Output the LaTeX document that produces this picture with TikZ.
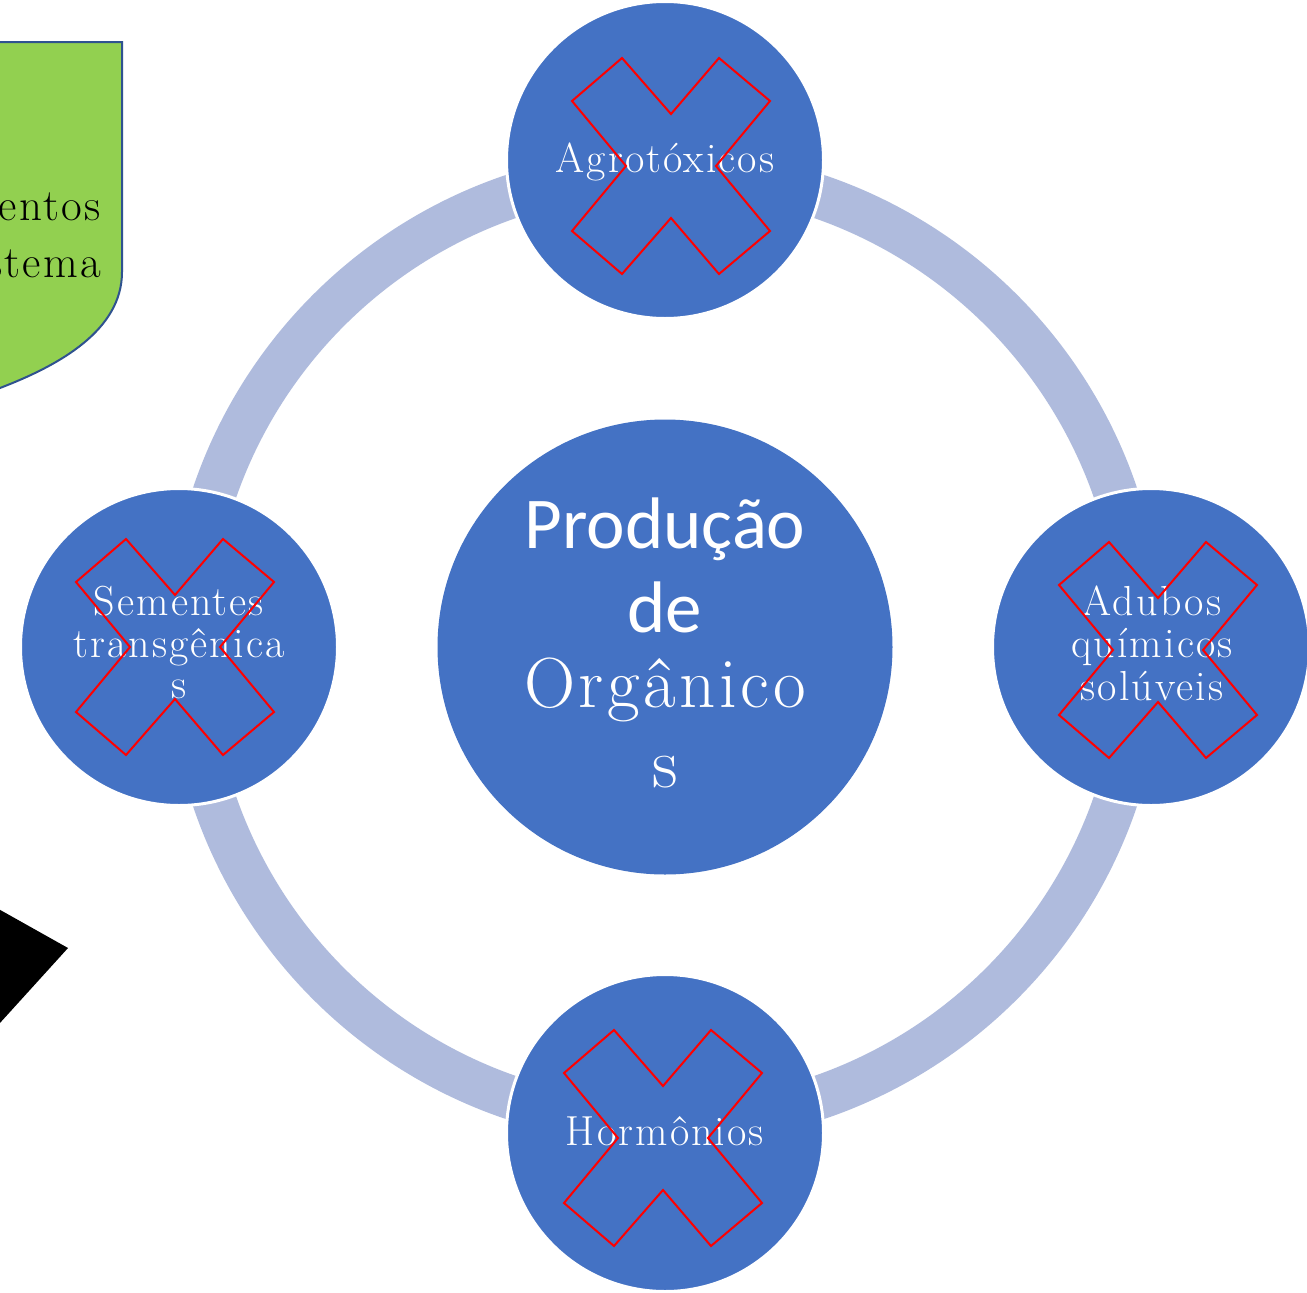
\documentclass[tikz,border=0pt]{standalone}
\usepackage{fontspec}
\newfontfamily\carlito{Carlito}
\newfontfamily\garam[LetterSpace=5]{Latin Modern Roman}
\definecolor{circblue}{HTML}{4472C4}
\definecolor{ringblue}{HTML}{AFBBDD}
\definecolor{leafgreen}{HTML}{92D050}
\definecolor{edgeblue}{HTML}{2F528F}
\definecolor{xred}{HTML}{FF0000}
\tikzset{
  ringline/.style={draw=ringblue, line width=44pt},
  sat/.style={circle, fill=circblue, draw=white, line width=3pt, minimum size=317pt, inner sep=0pt},
  hub/.style={circle, fill=circblue, minimum size=455pt, inner sep=0pt},
  sattext/.style={text=white, font=\garam\fontsize{42}{42}\selectfont, anchor=base, inner sep=0pt},
  greentext/.style={anchor=base east, inner sep=0pt, font=\garam\fontsize{45}{57}\selectfont},
  hubtext/.style={text=white, anchor=base, inner sep=0pt},
  redx/.pic={\draw[xred, line width=2pt, line join=miter]
     (-49,-108) -- (0,-52) -- (48,-108) -- (99,-65) -- (45,0) -- (99,65) -- (48,108)
     -- (0,52) -- (-49,108) -- (-99,65) -- (-45,0) -- (-99,-65) -- cycle;},
}
\begin{document}
\begin{tikzpicture}[x=1pt,y=-1pt]
\useasboundingbox (0,0) rectangle (1307,1293);
\clip (0,0) rectangle (1307,1293);
\fill[white] (0,0) rectangle (1307,1293);
% green shape (partly off page)
\draw[fill=leafgreen, draw=edgeblue, line width=2pt]
  (-30,42) -- (122,42) -- (122,272) .. controls (122,330) and (60,365) .. (0,388) -- (-30,400) -- cycle;
\node[greentext] (g1) at (101,220) {entos};
\node[greentext] (g2) at (101,277) {stema};
% black shape
\fill[black] (-30,893) -- (68,948) -- (-30,1056) -- cycle;
% ring
\draw[ringline] (665,647) circle[radius=476];
% hub
\node[hub] (hub) at (665,647) {};
\node[hubtext, font=\carlito\fontsize{73}{80}\selectfont] (h1) at (665,548) {Produção};
\node[hubtext, font=\carlito\fontsize{73}{80}\selectfont] (h2) at (665,632) {de};
\node[hubtext, font=\garam\fontsize{71}{80}\selectfont] (h3) at (665,707) {Orgânico};
\node[hubtext, font=\garam\fontsize{71}{80}\selectfont] (h4) at (665,787) {s};
% satellites
\node[sat] (top) at (665,160) {};
\node[sat] (left) at (179,647) {};
\node[sat] (right) at (1151,647) {};
\node[sat] (bottom) at (665,1133) {};
\node[sattext] (t1) at (665,172) {Agrotóxicos};
\node[sattext] (l1) at (179,615) {Sementes};
\node[sattext] (l2) at (179,657) {transgênica};
\node[sattext] (l3) at (179,698) {s};
\node[sattext] (r1) at (1152,615) {Adubos};
\node[sattext] (r2) at (1152,657) {químicos};
\node[sattext] (r3) at (1152,700) {solúveis};
\node[sattext] (b1) at (665,1145) {Hormônios};
% red crosses
\pic at (671,166) {redx};
\pic at (175,647) {redx};
\pic at (1158,650) {redx};
\pic at (663,1138) {redx};
\end{tikzpicture}
\end{document}
